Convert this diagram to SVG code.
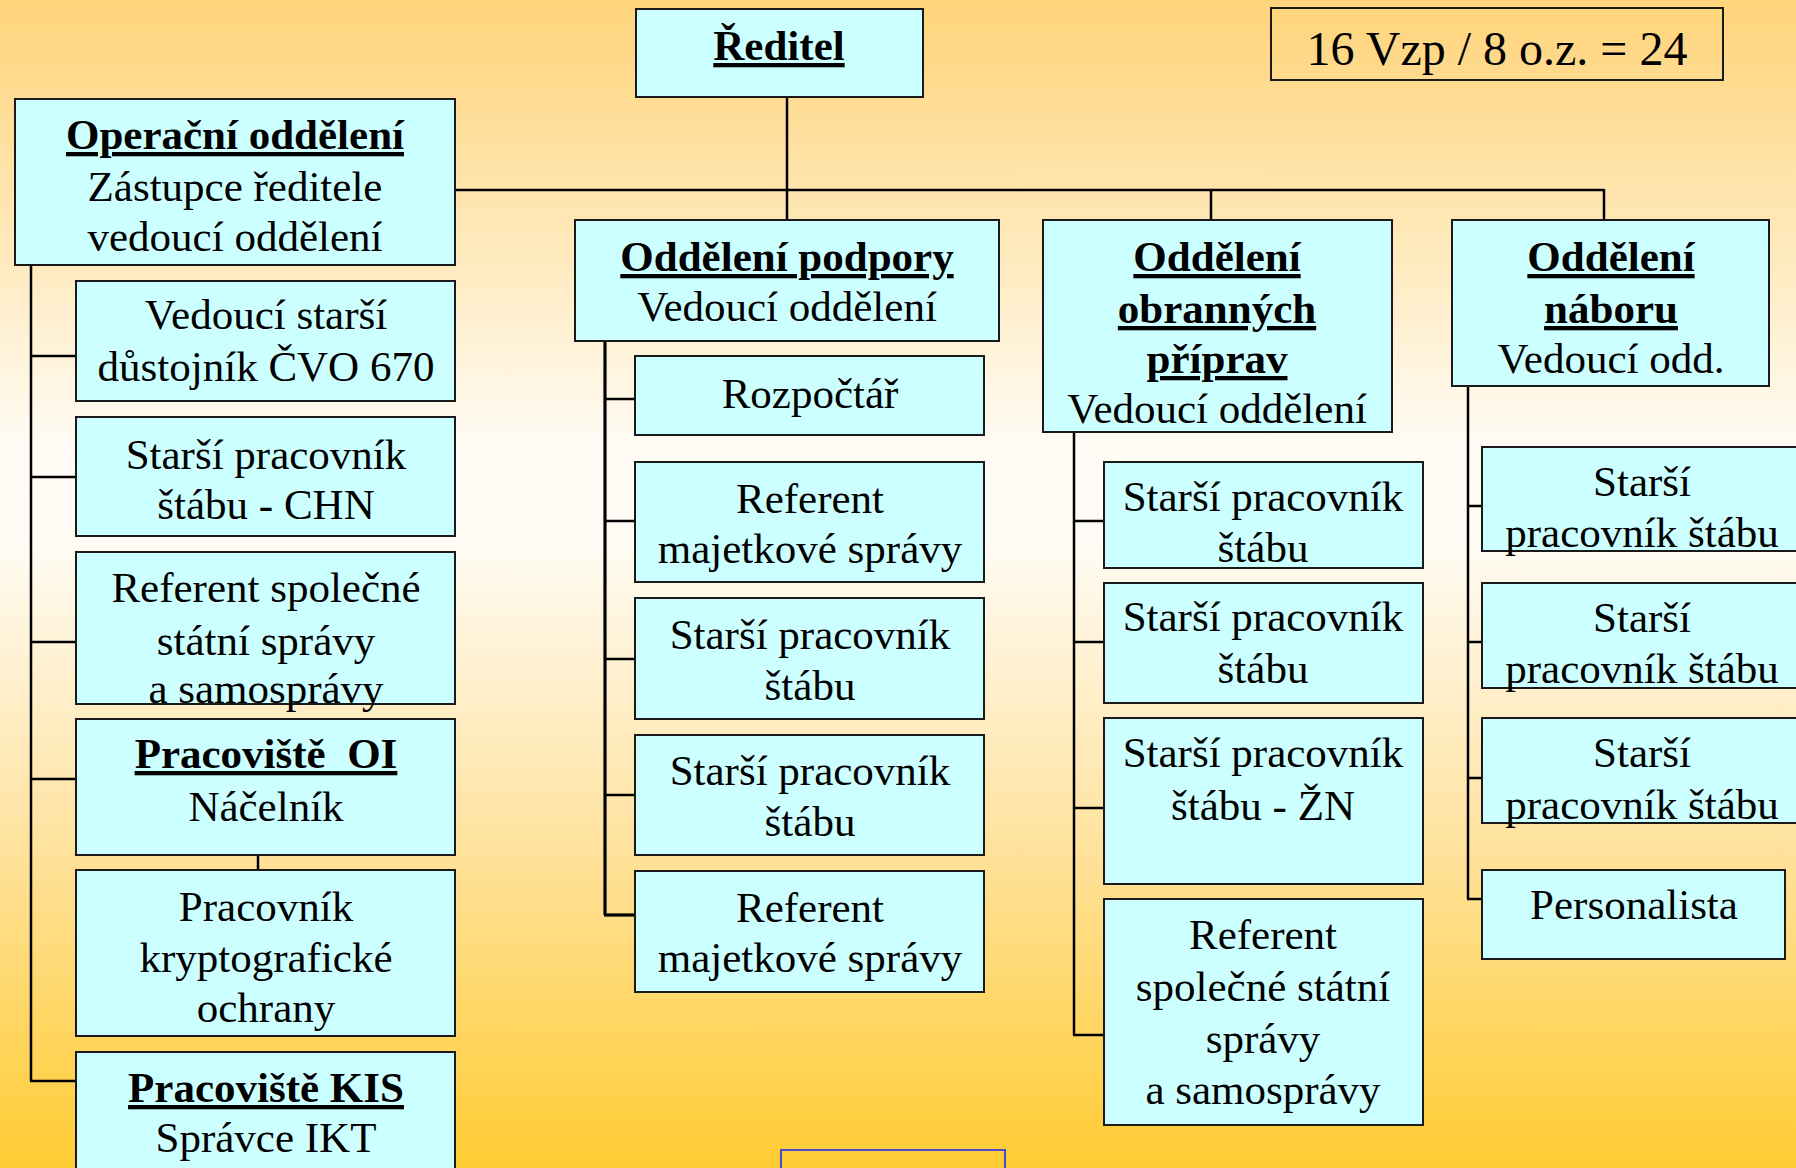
<svg xmlns="http://www.w3.org/2000/svg" width="1796" height="1168" viewBox="0 0 1796 1168">
<defs>
<linearGradient id="bg" x1="0" y1="0" x2="0" y2="1">
<stop offset="0" stop-color="#FFD47A"/>
<stop offset="0.2" stop-color="#FFE8B8"/>
<stop offset="0.38" stop-color="#FFFBF4"/>
<stop offset="0.46" stop-color="#FFFCF6"/>
<stop offset="0.7" stop-color="#FFE4A6"/>
<stop offset="1" stop-color="#FFCC33"/>
</linearGradient>
<style>
.box{fill:#CCFFFF;stroke:#1a1a1a;stroke-width:2}
.t{font-family:"Liberation Serif","Times New Roman",serif;font-size:43px;fill:#000;text-anchor:middle}
.b{font-weight:bold;text-decoration:underline}
.c line{stroke:#000;stroke-width:2.5}
</style>
</defs>
<rect width="1796" height="1168" fill="url(#bg)"/>

<g id="connectors" class="c">
<line x1="787" y1="97" x2="787" y2="220"/>
<line x1="455" y1="190" x2="1604" y2="190"/>
<line x1="1211" y1="189" x2="1211" y2="220"/>
<line x1="1604" y1="189" x2="1604" y2="220"/>
<line x1="31" y1="265" x2="31" y2="1081"/>
<line x1="30" y1="356" x2="76" y2="356"/>
<line x1="30" y1="477" x2="76" y2="477"/>
<line x1="30" y1="642" x2="76" y2="642"/>
<line x1="30" y1="779" x2="76" y2="779"/>
<line x1="30" y1="1081" x2="76" y2="1081"/>
<line x1="258" y1="855" x2="258" y2="870"/>
<line x1="605" y1="341" x2="605" y2="915" style="stroke-width:3.2"/>
<line x1="604" y1="399" x2="635" y2="399"/>
<line x1="604" y1="521" x2="635" y2="521"/>
<line x1="604" y1="659" x2="635" y2="659"/>
<line x1="604" y1="795" x2="635" y2="795"/>
<line x1="604" y1="915" x2="635" y2="915" style="stroke-width:3.2"/>
<line x1="1074" y1="432" x2="1074" y2="1035"/>
<line x1="1073" y1="521" x2="1104" y2="521"/>
<line x1="1073" y1="642" x2="1104" y2="642"/>
<line x1="1073" y1="808" x2="1104" y2="808"/>
<line x1="1073" y1="1035" x2="1104" y2="1035"/>
<line x1="1468" y1="386" x2="1468" y2="899"/>
<line x1="1467" y1="506" x2="1482" y2="506"/>
<line x1="1467" y1="642" x2="1482" y2="642"/>
<line x1="1467" y1="778" x2="1482" y2="778"/>
<line x1="1467" y1="899" x2="1482" y2="899"/>
</g>

<g id="counter">
<rect x="1271" y="8" width="452" height="72" fill="none" stroke="#1a1a1a" stroke-width="2"/>
<text class="t" x="1497" y="65" style="font-size:48px">16 Vzp / 8 o.z. = 24</text>
</g>

<g id="reditel">
<rect class="box" x="636" y="9" width="287" height="88"/>
<text class="t b" x="779" y="60">Ředitel</text>
</g>

<g id="operacni">
<rect class="box" x="15" y="99" width="440" height="166"/>
<text class="t b" x="235" y="149">Operační oddělení</text>
<text class="t" x="235" y="201">Zástupce ředitele</text>
<text class="t" x="235" y="251">vedoucí oddělení</text>
</g>

<g id="op1">
<rect class="box" x="76" y="281" width="379" height="120"/>
<text class="t" x="266" y="329">Vedoucí starší</text>
<text class="t" x="266" y="381">důstojník ČVO 670</text>
</g>
<g id="op2">
<rect class="box" x="76" y="417" width="379" height="119"/>
<text class="t" x="266" y="469">Starší pracovník</text>
<text class="t" x="266" y="519">štábu - CHN</text>
</g>
<g id="op3">
<rect class="box" x="76" y="552" width="379" height="152"/>
<text class="t" x="266" y="602">Referent společné</text>
<text class="t" x="266" y="655">státní správy</text>
<text class="t" x="266" y="703">a samosprávy</text>
</g>
<g id="op4">
<rect class="box" x="76" y="719" width="379" height="136"/>
<text class="t b" x="266" y="768" xml:space="preserve">Pracoviště  OI</text>
<text class="t" x="266" y="821">Náčelník</text>
</g>
<g id="op5">
<rect class="box" x="76" y="870" width="379" height="166"/>
<text class="t" x="266" y="921">Pracovník</text>
<text class="t" x="266" y="972">kryptografické</text>
<text class="t" x="266" y="1022">ochrany</text>
</g>
<g id="op6">
<rect class="box" x="76" y="1052" width="379" height="130"/>
<text class="t b" x="266" y="1102">Pracoviště KIS</text>
<text class="t" x="266" y="1152">Správce IKT</text>
</g>

<g id="podpora">
<rect class="box" x="575" y="220" width="424" height="121"/>
<text class="t b" x="787" y="271">Oddělení podpory</text>
<text class="t" x="787" y="321">Vedoucí oddělení</text>
</g>
<g id="pod1">
<rect class="box" x="635" y="356" width="349" height="79"/>
<text class="t" x="810" y="408">Rozpočtář</text>
</g>
<g id="pod2">
<rect class="box" x="635" y="462" width="349" height="120"/>
<text class="t" x="810" y="513">Referent</text>
<text class="t" x="810" y="563">majetkové správy</text>
</g>
<g id="pod3">
<rect class="box" x="635" y="598" width="349" height="121"/>
<text class="t" x="810" y="649">Starší pracovník</text>
<text class="t" x="810" y="700">štábu</text>
</g>
<g id="pod4">
<rect class="box" x="635" y="735" width="349" height="120"/>
<text class="t" x="810" y="785">Starší pracovník</text>
<text class="t" x="810" y="836">štábu</text>
</g>
<g id="pod5">
<rect class="box" x="635" y="871" width="349" height="121"/>
<text class="t" x="810" y="922">Referent</text>
<text class="t" x="810" y="972">majetkové správy</text>
</g>

<g id="obrana">
<rect class="box" x="1043" y="220" width="349" height="212"/>
<text class="t b" x="1217" y="271">Oddělení</text>
<text class="t b" x="1217" y="323">obranných</text>
<text class="t b" x="1217" y="373">příprav</text>
<text class="t" x="1217" y="423">Vedoucí oddělení</text>
</g>
<g id="obr1">
<rect class="box" x="1104" y="462" width="319" height="106"/>
<text class="t" x="1263" y="511">Starší pracovník</text>
<text class="t" x="1263" y="562">štábu</text>
</g>
<g id="obr2">
<rect class="box" x="1104" y="583" width="319" height="120"/>
<text class="t" x="1263" y="631">Starší pracovník</text>
<text class="t" x="1263" y="683">štábu</text>
</g>
<g id="obr3">
<rect class="box" x="1104" y="718" width="319" height="166"/>
<text class="t" x="1263" y="767">Starší pracovník</text>
<text class="t" x="1263" y="820">štábu - ŽN</text>
</g>
<g id="obr4">
<rect class="box" x="1104" y="899" width="319" height="226"/>
<text class="t" x="1263" y="949">Referent</text>
<text class="t" x="1263" y="1001">společné státní</text>
<text class="t" x="1263" y="1053">správy</text>
<text class="t" x="1263" y="1104">a samosprávy</text>
</g>

<g id="nabor">
<rect class="box" x="1452" y="220" width="317" height="166"/>
<text class="t b" x="1611" y="271">Oddělení</text>
<text class="t b" x="1611" y="323">náboru</text>
<text class="t" x="1611" y="373">Vedoucí odd.</text>
</g>
<g id="nab1">
<rect class="box" x="1482" y="447" width="320" height="104"/>
<text class="t" x="1642" y="496">Starší</text>
<text class="t" x="1642" y="547">pracovník štábu</text>
</g>
<g id="nab2">
<rect class="box" x="1482" y="583" width="320" height="105"/>
<text class="t" x="1642" y="632">Starší</text>
<text class="t" x="1642" y="683">pracovník štábu</text>
</g>
<g id="nab3">
<rect class="box" x="1482" y="718" width="320" height="105"/>
<text class="t" x="1642" y="767">Starší</text>
<text class="t" x="1642" y="819">pracovník štábu</text>
</g>
<g id="nab4">
<rect class="box" x="1482" y="870" width="303" height="89"/>
<text class="t" x="1634" y="919">Personalista</text>
</g>

<g id="partial">
<rect x="781" y="1150" width="224" height="40" fill="none" stroke="#4848D0" stroke-width="2"/>
</g>
</svg>
